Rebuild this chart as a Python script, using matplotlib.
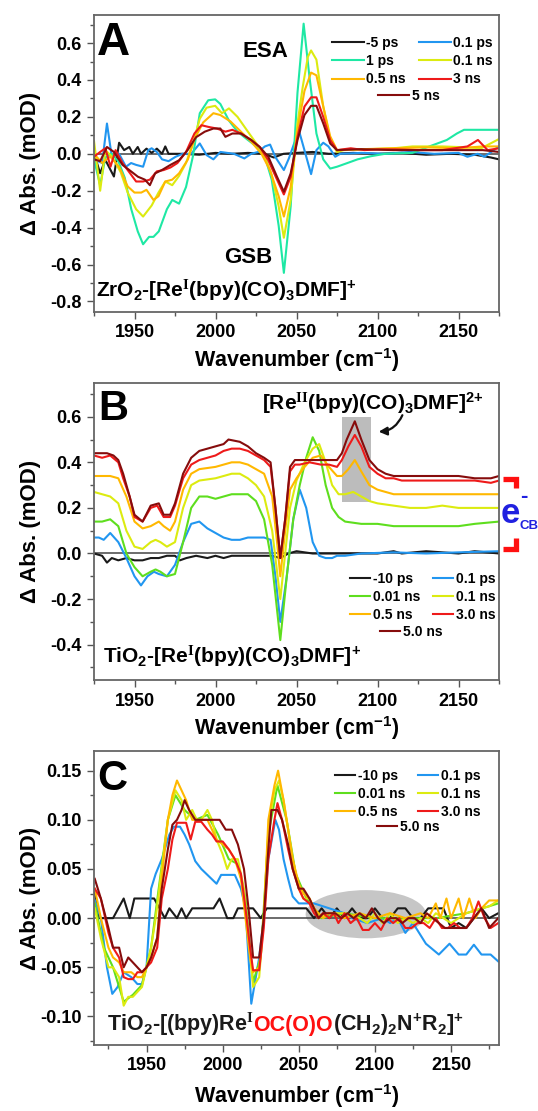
import matplotlib
matplotlib.use("Agg")
import matplotlib.pyplot as plt
from matplotlib.lines import Line2D
from matplotlib.patches import Rectangle, Ellipse
from matplotlib.ticker import MultipleLocator, FormatStrFormatter

plt.rcParams['font.family'] = ['Liberation Sans', 'DejaVu Sans']
plt.rcParams['font.weight'] = 'bold'
plt.rcParams['axes.unicode_minus'] = False
plt.rcParams['mathtext.fontset'] = 'custom'
plt.rcParams['mathtext.rm'] = 'Liberation Serif:bold'
plt.rcParams['mathtext.bf'] = 'Liberation Sans:bold'
plt.rcParams['mathtext.it'] = 'Liberation Sans:bold:italic'
plt.rcParams['mathtext.sf'] = 'Liberation Sans:bold'
plt.rcParams['mathtext.default'] = 'bf'

# ---------------- panel A : ZrO2 ----------------
A_x_m5ps = [1925.6, 1928.8, 1932, 1937.3, 1940.5, 1943.6, 1946.8, 1949, 1952, 1954, 1957.4, 1960.6, 1963.8, 1967, 1969, 1971, 1980, 1990, 2000, 2010, 2020, 2030, 2036, 2042, 2050, 2060, 2070, 2085, 2100, 2115, 2130, 2145, 2160, 2170, 2175]
A_m5ps = [-0.015, -0.105, -0.033, -0.123, 0.06, 0.02, 0.037, 0.0, 0.037, 0.0, 0.028, 0.005, 0.028, 0.0, 0.04, 0.0, 0.0, -0.005, 0.005, 0.0, 0.005, 0.0, -0.02, 0.0, 0.005, 0.01, 0.0, 0.005, 0.0, 0.005, -0.005, 0.0, -0.005, -0.02, -0.03]

A_x_01ps = [1925.6, 1930, 1933, 1936, 1940.5, 1944.7, 1947.9, 1951, 1955.3, 1958.5, 1960.6, 1963.8, 1967, 1971, 1975.4, 1979.7, 1985, 1990.3, 1994.5, 1998.7, 2003, 2011.4, 2017.8, 2022, 2026.3, 2030.5, 2033.7, 2036.9, 2042.2, 2045.3, 2048.5, 2051.7, 2054.9, 2059, 2062.3, 2066.5, 2069.7, 2073.9, 2077, 2090, 2105, 2120, 2135, 2150, 2155.5, 2161.9, 2166, 2175]
A_01ps = [-0.033, -0.05, 0.164, -0.016, 0.0, -0.07, -0.05, -0.06, -0.07, 0.02, 0.03, 0.01, -0.03, -0.04, -0.016, 0.0, 0.0, 0.056, -0.007, -0.03, 0.01, 0.0, -0.025, 0.0, 0.01, 0.04, 0.05, -0.017, -0.088, -0.025, 0.055, 0.12, 0.02, -0.11, 0.02, 0.06, 0.04, -0.016, 0.0, 0.005, 0.0, 0.01, 0.0, 0.005, -0.016, 0.0, -0.016, 0.04]

A_x_1ps = [1925, 1928.8, 1932, 1936, 1940, 1944, 1948, 1952, 1955.3, 1959, 1961.7, 1965, 1970, 1973.3, 1977.5, 1981.8, 1986, 1990.3, 1995.5, 1999.8, 2003, 2008.3, 2013.6, 2020, 2025.2, 2030.5, 2034.7, 2039, 2042.2, 2046.4, 2050.6, 2054.4, 2058, 2062.3, 2066.5, 2070.8, 2075, 2081.4, 2087.7, 2096, 2104.7, 2121.6, 2132, 2142.8, 2149, 2153.4, 2164, 2175]
A_1ps = [-0.03, -0.17, -0.02, 0.0, -0.04, -0.13, -0.3, -0.42, -0.49, -0.45, -0.45, -0.42, -0.3, -0.25, -0.27, -0.18, -0.016, 0.22, 0.29, 0.295, 0.27, 0.18, 0.12, 0.075, 0.04, -0.016, -0.14, -0.39, -0.645, -0.285, 0.33, 0.705, 0.417, 0.11, -0.03, -0.08, -0.07, -0.05, -0.03, -0.013, 0.0, 0.005, 0.04, 0.075, 0.11, 0.13, 0.13, 0.13]

A_x_01ns = [1925, 1928.8, 1932, 1936.2, 1941.5, 1945.8, 1951, 1955.3, 1960.6, 1964.8, 1969, 1973.3, 1977.5, 1981.8, 1986, 1990.3, 1994.5, 1999.8, 2004, 2008.3, 2013.6, 2020, 2025.2, 2030.5, 2034.7, 2039, 2042.2, 2046.4, 2050.6, 2053.8, 2057, 2059, 2062.3, 2066.5, 2070.8, 2075, 2079.2, 2095, 2110, 2121.6, 2140, 2155, 2164, 2175]
A_01ns = [0.07, -0.2, 0.02, -0.016, -0.1, -0.21, -0.3, -0.34, -0.28, -0.21, -0.15, -0.17, -0.12, -0.05, 0.055, 0.19, 0.25, 0.26, 0.22, 0.246, 0.2, 0.12, 0.056, -0.016, -0.115, -0.285, -0.455, -0.25, 0.164, 0.36, 0.525, 0.56, 0.51, 0.257, 0.077, 0.01, 0.02, 0.025, 0.03, 0.04, 0.04, 0.035, 0.03, 0.08]

A_x_05ns = [1925, 1930, 1935, 1940.5, 1945.8, 1950, 1954.2, 1957.4, 1961.7, 1964.8, 1969, 1973.3, 1977.5, 1983, 1987, 1992.4, 1998.7, 2003, 2009.3, 2015.7, 2022, 2028.4, 2033.7, 2039, 2042.2, 2046.4, 2050.6, 2054.9, 2059, 2062.3, 2066.5, 2070.8, 2075, 2090, 2110, 2130, 2150, 2165, 2175]
A_05ns = [0.0, -0.05, -0.015, -0.07, -0.177, -0.21, -0.21, -0.195, -0.25, -0.23, -0.15, -0.14, -0.106, -0.03, 0.08, 0.17, 0.22, 0.21, 0.175, 0.12, 0.066, 0.0, -0.09, -0.23, -0.34, -0.18, 0.128, 0.34, 0.44, 0.425, 0.257, 0.095, 0.02, 0.025, 0.03, 0.035, 0.03, 0.04, 0.04]

A_x_3ns = [1925, 1928.8, 1932, 1935.2, 1938.3, 1942.6, 1946.8, 1951, 1955.3, 1959.5, 1963.8, 1968, 1972.2, 1976.5, 1981.8, 1987, 1991.3, 1995.5, 2000.8, 2006.1, 2010.4, 2015.7, 2022, 2027.3, 2032.6, 2038, 2042.2, 2046.4, 2050.6, 2054.9, 2059, 2062.3, 2066.5, 2070.8, 2075, 2083.5, 2092, 2100.4, 2111, 2125, 2140, 2155.5, 2162, 2168, 2175]
A_3ns = [-0.016, 0.01, 0.03, -0.07, 0.02, -0.05, -0.1, -0.15, -0.15, -0.14, -0.095, -0.088, -0.074, -0.05, 0.01, 0.11, 0.155, 0.146, 0.137, 0.12, 0.13, 0.11, 0.075, 0.037, -0.035, -0.14, -0.22, -0.125, 0.092, 0.256, 0.306, 0.306, 0.2, 0.075, 0.02, 0.03, 0.02, 0.024, 0.024, 0.02, 0.02, 0.04, 0.075, 0.02, 0.03]

A_x_5ns = [1925, 1928.8, 1933, 1937.3, 1942.6, 1946.8, 1952.1, 1956.4, 1959.5, 1962.7, 1966.9, 1972.2, 1977.5, 1982.8, 1988, 1993.4, 1998.7, 2003, 2006.1, 2010.4, 2015.7, 2022, 2027.3, 2032.6, 2038, 2042.2, 2046.4, 2050.6, 2054.9, 2059, 2062.3, 2066.5, 2070.8, 2075, 2090, 2110, 2130, 2150, 2165, 2175]
A_5ns = [-0.03, -0.04, 0.037, 0.01, -0.06, -0.088, -0.124, -0.14, -0.17, -0.106, -0.088, -0.06, -0.035, 0.02, 0.09, 0.12, 0.137, 0.137, 0.092, 0.11, 0.11, 0.075, 0.037, -0.016, -0.125, -0.205, -0.106, 0.074, 0.21, 0.26, 0.26, 0.165, 0.056, 0.02, 0.025, 0.02, 0.02, 0.02, 0.02, 0.01]

# ---------------- panel B : TiO2 ----------------
B_x_m10ps = [1925, 1930, 1933, 1936, 1940, 1945, 1950, 1955, 1960, 1965, 1970, 1975, 1978, 1982, 1988, 1995, 2000, 2005, 2010, 2020, 2035, 2040, 2045, 2050, 2060, 2080, 2100, 2110, 2115, 2130, 2150, 2160, 2175]
B_m10ps = [0.0, -0.01, -0.04, -0.02, -0.03, -0.02, -0.03, -0.03, -0.02, -0.02, -0.01, -0.01, -0.03, -0.02, -0.01, -0.02, -0.01, -0.02, -0.01, -0.01, -0.01, -0.02, 0.0, 0.01, 0.0, 0.0, 0.0, 0.01, 0.0, 0.01, 0.0, 0.01, 0.0]

B_x_01ps = [1925, 1928, 1931, 1935, 1940, 1945, 1950, 1954, 1958, 1962, 1965, 1970, 1975, 1980, 1985, 1990, 1995, 2000, 2005, 2010, 2015, 2020, 2025, 2030, 2034, 2037, 2040, 2044, 2048, 2052, 2056, 2060, 2064, 2068, 2072, 2075, 2080, 2090, 2110, 2130, 2150, 2175]
B_01ps = [0.07, 0.07, 0.06, 0.09, 0.05, -0.02, -0.1, -0.14, -0.1, -0.08, -0.09, -0.1, -0.05, 0.05, 0.13, 0.14, 0.11, 0.09, 0.07, 0.06, 0.06, 0.07, 0.07, 0.07, 0.06, -0.1, -0.3, -0.1, 0.15, 0.28, 0.2, 0.05, -0.01, -0.02, -0.02, -0.01, -0.01, 0.0, 0.005, 0.0, 0.005, 0.01]

B_x_001ns = [1925, 1930, 1935, 1940, 1945, 1950, 1955, 1960, 1963, 1966, 1970, 1975, 1980, 1985, 1990, 1995, 2000, 2005, 2010, 2015, 2020, 2025, 2030, 2035, 2040, 2044, 2048, 2052, 2056, 2060, 2064, 2068, 2072, 2076, 2080, 2090, 2100, 2110, 2120, 2130, 2140, 2150, 2160, 2175]
B_001ns = [0.14, 0.14, 0.15, 0.12, 0.0, -0.06, -0.1, -0.08, -0.07, -0.08, -0.1, -0.09, 0.05, 0.2, 0.25, 0.25, 0.24, 0.25, 0.26, 0.26, 0.26, 0.23, 0.15, -0.05, -0.38, -0.1, 0.15, 0.3, 0.42, 0.51, 0.45, 0.3, 0.2, 0.16, 0.14, 0.13, 0.13, 0.12, 0.12, 0.12, 0.12, 0.12, 0.13, 0.14]

B_x_01ns = [1925, 1930, 1935, 1940, 1945, 1950, 1955, 1960, 1963, 1966, 1970, 1975, 1980, 1985, 1990, 2000, 2005, 2010, 2015, 2020, 2025, 2030, 2035, 2040, 2043, 2046, 2050, 2055, 2060, 2064, 2068, 2072, 2076, 2080, 2085, 2090, 2095, 2100, 2110, 2120, 2130, 2140, 2150, 2160, 2175]
B_01ns = [0.27, 0.26, 0.25, 0.22, 0.1, 0.03, 0.02, 0.05, 0.06, 0.05, 0.03, 0.05, 0.2, 0.3, 0.32, 0.33, 0.34, 0.35, 0.35, 0.33, 0.3, 0.25, 0.1, -0.2, 0.0, 0.2, 0.32, 0.4, 0.46, 0.48, 0.4, 0.3, 0.26, 0.26, 0.27, 0.25, 0.23, 0.22, 0.21, 0.2, 0.2, 0.21, 0.2, 0.2, 0.2]

B_x_05ns = [1925, 1935, 1940, 1945, 1950, 1955, 1960, 1965, 1968, 1972, 1975, 1980, 1985, 1990, 2000, 2010, 2015, 2020, 2025, 2030, 2035, 2038, 2040, 2043, 2046, 2050, 2055, 2060, 2065, 2070, 2075, 2078, 2082, 2086, 2090, 2095, 2100, 2105, 2110, 2130, 2150, 2175]
B_05ns = [0.34, 0.34, 0.33, 0.25, 0.14, 0.11, 0.12, 0.14, 0.12, 0.1, 0.14, 0.28, 0.35, 0.37, 0.38, 0.4, 0.4, 0.39, 0.37, 0.35, 0.25, 0.05, -0.1, 0.1, 0.28, 0.33, 0.38, 0.42, 0.43, 0.38, 0.34, 0.34, 0.37, 0.41, 0.36, 0.3, 0.28, 0.27, 0.26, 0.26, 0.26, 0.26]

B_x_3ns = [1925, 1930, 1935, 1940, 1943, 1947, 1950, 1955, 1960, 1964, 1968, 1972, 1975, 1980, 1985, 1990, 2000, 2005, 2010, 2015, 2020, 2025, 2030, 2034, 2037, 2040, 2043, 2046, 2049, 2052, 2058, 2065, 2070, 2075, 2078, 2082, 2086, 2090, 2095, 2100, 2105, 2110, 2115, 2130, 2150, 2160, 2170, 2175]
B_3ns = [0.43, 0.42, 0.43, 0.4, 0.33, 0.25, 0.16, 0.14, 0.2, 0.21, 0.16, 0.16, 0.21, 0.33, 0.39, 0.41, 0.43, 0.45, 0.46, 0.46, 0.45, 0.43, 0.41, 0.38, 0.2, -0.02, 0.15, 0.36, 0.39, 0.39, 0.4, 0.39, 0.39, 0.38, 0.41, 0.47, 0.52, 0.47, 0.38, 0.35, 0.33, 0.33, 0.32, 0.32, 0.32, 0.32, 0.31, 0.32]

B_x_5ns = [1925, 1930, 1933, 1937, 1940, 1943, 1947, 1950, 1955, 1960, 1965, 1968, 1972, 1975, 1980, 1985, 1990, 2000, 2005, 2008, 2015, 2020, 2025, 2030, 2034, 2037, 2040, 2043, 2046, 2049, 2052, 2060, 2070, 2075, 2078, 2081, 2086, 2090, 2095, 2100, 2105, 2110, 2120, 2130, 2140, 2150, 2160, 2170, 2175]
B_5ns = [0.44, 0.44, 0.44, 0.43, 0.41, 0.35, 0.25, 0.17, 0.14, 0.21, 0.22, 0.17, 0.17, 0.22, 0.35, 0.42, 0.45, 0.47, 0.48, 0.5, 0.49, 0.47, 0.44, 0.42, 0.4, 0.2, -0.02, 0.15, 0.38, 0.41, 0.41, 0.41, 0.41, 0.41, 0.44, 0.5, 0.58, 0.5, 0.41, 0.37, 0.35, 0.34, 0.34, 0.34, 0.34, 0.34, 0.33, 0.33, 0.34]

# ---------------- panel C : TiO2 carbonate ----------------
C_x_m10ps = [1916, 1919, 1928, 1935, 1939, 1942, 1955, 1962, 1965, 1970, 1973, 1976, 1980, 1994, 1998, 2003, 2007, 2010, 2020, 2025, 2029, 2040, 2055, 2060, 2065, 2070, 2075, 2080, 2085, 2090, 2095, 2100, 2105, 2110, 2115, 2120, 2125, 2130, 2135, 2140, 2145, 2150, 2155, 2160, 2165, 2170, 2175, 2181]
C_m10ps = [0.027, 0.0, 0.0, 0.02, 0.0, 0.02, 0.02, 0.0, 0.01, 0.0, 0.01, 0.0, 0.01, 0.01, 0.02, 0.0, 0.0, 0.01, 0.01, 0.0, 0.01, 0.01, 0.01, 0.0, 0.01, 0.0, 0.01, 0.0, 0.01, 0.0, 0.0, 0.01, 0.0, 0.0, 0.01, 0.01, 0.0, 0.0, 0.01, 0.01, 0.01, -0.01, -0.005, -0.01, 0.0, 0.01, 0.0, 0.005]

C_x_01ps = [1916, 1920, 1924, 1927.5, 1931, 1935, 1940, 1944, 1947, 1950, 1953, 1956, 1960, 1965, 1968, 1972, 1975, 1978, 1982, 1986, 1990, 1996, 1999, 2004, 2008, 2012, 2015, 2018.8, 2024, 2027, 2030, 2034.6, 2037, 2040, 2043, 2046, 2050, 2060, 2070, 2080, 2085, 2095, 2105, 2110, 2115, 2120, 2125, 2133.5, 2142, 2149, 2155, 2160, 2165, 2170, 2176, 2181]
C_01ps = [0.018, 0.0, -0.05, -0.077, -0.07, -0.055, -0.06, -0.067, -0.067, -0.05, 0.03, 0.045, 0.06, 0.085, 0.093, 0.093, 0.085, 0.075, 0.058, 0.05, 0.044, 0.035, 0.044, 0.044, 0.044, 0.03, 0.01, -0.087, -0.04, 0.0, 0.06, 0.1, 0.09, 0.06, 0.04, 0.022, 0.015, 0.015, 0.01, 0.005, 0.0, -0.005, 0.0, -0.005, 0.0, -0.015, -0.005, -0.026, -0.037, -0.026, -0.037, -0.037, -0.027, -0.037, -0.037, -0.044]

C_x_001ns = [1916, 1922, 1928, 1935, 1941, 1947, 1953, 1958, 1964, 1969, 1975, 1982, 1990, 1997, 2004, 2010, 2015, 2020, 2025, 2030, 2036, 2042, 2048, 2055, 2065, 2080, 2100, 2120, 2140, 2160, 2181]
C_001ns = [0.015, -0.03, -0.05, -0.085, -0.078, -0.068, -0.03, 0.03, 0.1, 0.125, 0.11, 0.1, 0.105, 0.085, 0.06, 0.055, 0.02, -0.065, -0.04, 0.085, 0.135, 0.1, 0.045, 0.02, 0.0, 0.005, 0.0, 0.0, 0.0, 0.005, 0.015]

C_x_01ns = [1916, 1920, 1925, 1928, 1932, 1935, 1938, 1941, 1944, 1947, 1950, 1953, 1956, 1960, 1964, 1969, 1973, 1976, 1980, 1983, 1986, 1990, 1993, 1996, 2000, 2003, 2006, 2010, 2014, 2017, 2020, 2024, 2027, 2030, 2034, 2037, 2040, 2043, 2046, 2050, 2053, 2057, 2060, 2063, 2070, 2080, 2090, 2095, 2100, 2105, 2110, 2115, 2120, 2125, 2130, 2135, 2140, 2150, 2160, 2170, 2175, 2181]
C_01ns = [0.01, -0.02, -0.05, -0.05, -0.06, -0.089, -0.08, -0.08, -0.075, -0.07, -0.05, -0.03, 0.0, 0.05, 0.1, 0.13, 0.12, 0.1, 0.11, 0.1, 0.1, 0.11, 0.1, 0.08, 0.065, 0.05, 0.06, 0.06, 0.03, -0.02, -0.07, -0.06, 0.0, 0.09, 0.13, 0.14, 0.12, 0.09, 0.06, 0.03, 0.02, 0.02, 0.01, 0.0, 0.005, 0.005, 0.0, -0.005, 0.005, -0.005, 0.005, -0.005, 0.0, -0.005, 0.0, -0.005, 0.005, -0.005, 0.005, 0.01, 0.012, 0.018]

C_x_05ns = [1916, 1920, 1925, 1928, 1932, 1935, 1940, 1944, 1947, 1950, 1953, 1957, 1960, 1964, 1967, 1970, 1973, 1976, 1980, 1983, 1986, 1990, 1993, 1996, 2000, 2004, 2008, 2012, 2015, 2018, 2020, 2024, 2027, 2030, 2034, 2036.4, 2040, 2043, 2046, 2050, 2053, 2057, 2060, 2063, 2066, 2070, 2080, 2090, 2100, 2110, 2120, 2130, 2135, 2140, 2143, 2147, 2150, 2155, 2158, 2162, 2166, 2170, 2175, 2181]
C_05ns = [0.03, 0.0, -0.03, -0.04, -0.045, -0.055, -0.055, -0.06, -0.06, -0.05, -0.04, -0.02, 0.04, 0.1, 0.125, 0.14, 0.13, 0.12, 0.1, 0.1, 0.1, 0.1, 0.09, 0.08, 0.075, 0.07, 0.06, 0.04, 0.0, -0.04, -0.055, -0.05, 0.0, 0.1, 0.135, 0.15, 0.12, 0.09, 0.06, 0.035, 0.025, 0.02, 0.01, 0.005, 0.0, 0.005, 0.0, 0.005, 0.0, 0.005, 0.0, 0.005, 0.0, 0.015, 0.0, 0.02, 0.0, 0.02, 0.0, 0.02, 0.0, 0.01, 0.018, 0.018]

C_x_3ns = [1916, 1920, 1925, 1928, 1932, 1935, 1938, 1941, 1944, 1947, 1950, 1953, 1957, 1960, 1964, 1967, 1970, 1973, 1976, 1979, 1982, 1986, 1990, 1993, 1996, 2000, 2004, 2008, 2012, 2015, 2018, 2020, 2024, 2027, 2030, 2034, 2036, 2039, 2043, 2046, 2050, 2053, 2057, 2060, 2063, 2066, 2070, 2073, 2076, 2080, 2084, 2088, 2092, 2096, 2100, 2104, 2108, 2112, 2116, 2120, 2124, 2128, 2132, 2136, 2140, 2144, 2148, 2152, 2156, 2160, 2164, 2168, 2172, 2176, 2181]
C_3ns = [0.03, 0.02, -0.015, -0.03, -0.04, -0.06, -0.062, -0.062, -0.055, -0.055, -0.05, -0.045, -0.03, 0.02, 0.05, 0.08, 0.097, 0.097, 0.097, 0.08, 0.098, 0.098, 0.09, 0.085, 0.078, 0.078, 0.07, 0.06, 0.045, 0.01, -0.03, -0.053, -0.053, -0.01, 0.06, 0.1, 0.117, 0.1, 0.07, 0.05, 0.03, 0.02, 0.015, 0.005, 0.0, 0.005, 0.0, 0.005, -0.005, 0.005, -0.005, 0.0, -0.012, -0.012, -0.005, -0.012, 0.0, -0.005, 0.0, -0.01, -0.01, -0.005, -0.005, -0.01, 0.0, -0.01, -0.01, -0.005, -0.01, -0.01, 0.0, 0.017, 0.0, -0.01, -0.005]

C_x_5ns = [1916, 1920, 1925, 1928, 1932, 1935, 1938, 1941, 1944, 1947, 1950, 1953, 1957, 1960, 1964, 1967, 1970, 1973, 1975, 1978, 1982, 1986, 1990, 1994, 1998, 2002, 2006, 2010, 2014, 2017, 2020, 2024, 2027, 2030, 2032, 2036, 2039, 2043, 2046, 2050, 2053, 2057, 2060, 2063, 2066, 2070, 2074, 2078, 2082, 2086, 2090, 2094, 2098, 2102, 2106, 2110, 2114, 2118, 2122, 2126, 2130, 2134, 2138, 2142, 2146, 2150, 2155, 2160, 2165, 2170, 2175, 2181]
C_5ns = [0.04, 0.02, -0.01, -0.03, -0.03, -0.05, -0.04, -0.045, -0.05, -0.055, -0.05, -0.04, -0.02, 0.03, 0.07, 0.095, 0.1, 0.11, 0.12, 0.11, 0.1, 0.1, 0.1, 0.1, 0.1, 0.09, 0.09, 0.075, 0.05, 0.01, -0.04, -0.04, 0.0, 0.07, 0.11, 0.11, 0.1, 0.075, 0.05, 0.03, 0.03, 0.02, 0.01, 0.0, 0.005, 0.005, 0.005, 0.0, 0.005, 0.0, 0.005, 0.0, 0.01, 0.0, -0.005, 0.0, 0.0, -0.005, 0.0, 0.0, -0.005, 0.005, 0.0, -0.005, -0.01, -0.01, -0.01, -0.01, 0.0, 0.01, -0.01, 0.0]

labels_A = ['-5 ps', '0.1 ps', '1 ps', '0.1 ns', '0.5 ns', '3 ns', '5 ns']
labels_BC = ['-10 ps', '0.1 ps', '0.01 ns', '0.1 ns', '0.5 ns', '3.0 ns', '5.0 ns']

BLACK = '#1a1a1a'
BLUE = '#2196f0'
CYAN = '#1ee8a4'
GREEN = '#5ede1e'
YELLOW = '#dceb10'
ORANGE = '#ffb800'
RED = '#ee1a1a'
DARK = '#860c0c'
LW = 1.5


def style_axes(ax, xlim, ylim, ymaj, ymin, yfmt, xlab_y):
    ax.set_xlim(*xlim)
    ax.set_ylim(*ylim)
    ax.xaxis.set_major_locator(MultipleLocator(50))
    ax.xaxis.set_minor_locator(MultipleLocator(25))
    ax.yaxis.set_major_locator(MultipleLocator(ymaj))
    ax.yaxis.set_minor_locator(MultipleLocator(ymin))
    ax.yaxis.set_major_formatter(FormatStrFormatter(yfmt))
    ax.tick_params(which='both', direction='out', top=False, right=False,
                   labelsize=13, width=1.0, color='#555555', pad=4)
    ax.tick_params(which='major', length=5)
    ax.tick_params(which='minor', length=3)
    for lab in ax.get_xticklabels() + ax.get_yticklabels():
        lab.set_fontweight('bold')
    for s in ax.spines.values():
        s.set_color('#666666')
        s.set_linewidth(1.3)
    ax.axhline(0, color='#444444', lw=1.1, zorder=1.5)
    ax.set_xlabel('Wavenumber (cm$^{-1}$)', fontsize=15.5, fontweight='bold')
    ax.set_ylabel('Δ Abs. (mOD)', fontsize=16, fontweight='bold')
    ax.xaxis.set_label_coords(0.5, xlab_y)
    ax.yaxis.set_label_coords(-0.13, 0.5)


def add_legend(ax, handles, labels, x0, y0, x1, y1, hlen):
    kw = dict(frameon=False, fontsize=10, handlelength=hlen, handletextpad=0.2,
              borderpad=0, borderaxespad=0, labelspacing=0.31, columnspacing=0.9)
    order = [0, 2, 4, 1, 3, 5]
    leg1 = ax.legend([handles[i] for i in order], [labels[i] for i in order], ncol=2,
                     loc='upper left', bbox_to_anchor=(x0, y0), **kw)
    ax.add_artist(leg1)
    ax.legend([handles[6]], [labels[6]], loc='upper left', bbox_to_anchor=(x1, y1), **kw)


fig = plt.figure(figsize=(5.38, 11.11), dpi=100)
W, H = 538, 1111
axA = fig.add_axes([94 / W, 1 - 312 / H, 405 / W, 297 / H])
axB = fig.add_axes([94 / W, 1 - 680 / H, 405 / W, 297 / H])
axC = fig.add_axes([94 / W, 1 - 1045 / H, 405 / W, 294 / H])

# ---- A ----
hA = [
    axA.plot(A_x_m5ps, A_m5ps, color=BLACK, lw=LW)[0],
    axA.plot(A_x_01ps, A_01ps, color=BLUE, lw=LW)[0],
    axA.plot(A_x_1ps, A_1ps, color=CYAN, lw=LW)[0],
    axA.plot(A_x_01ns, A_01ns, color=YELLOW, lw=LW)[0],
    axA.plot(A_x_05ns, A_05ns, color=ORANGE, lw=LW)[0],
    axA.plot(A_x_3ns, A_3ns, color=RED, lw=LW)[0],
    axA.plot(A_x_5ns, A_5ns, color=DARK, lw=LW)[0],
]
style_axes(axA, (1925, 2175), (-0.857, 0.752), 0.2, 0.1, '%.1f', -0.115)
add_legend(axA, hA, labels_A, 0.587, 0.93, 0.70, 0.752, 2.3)
axA.text(0.008, 0.865, 'A', transform=axA.transAxes, fontsize=33, fontweight='bold', va='baseline')
axA.text(2031, 0.552, 'ESA', fontsize=16, fontweight='bold', ha='center', va='center')
axA.text(2020, -0.56, 'GSB', fontsize=16, fontweight='bold', ha='center', va='center')
axA.text(0.006, 0.05, r'ZrO$_2$-[Re$^{\mathrm{I}}$(bpy)(CO)$_3$DMF]$^{+}$', transform=axA.transAxes,
         fontsize=15, fontweight='bold', va='baseline')

# ---- B ----
axB.add_patch(Rectangle((2078, 0.225), 18, 0.372, facecolor='#bcbcbc', edgecolor='none', zorder=1))
hB = [
    axB.plot(B_x_m10ps, B_m10ps, color=BLACK, lw=LW)[0],
    axB.plot(B_x_01ps, B_01ps, color=BLUE, lw=LW)[0],
    axB.plot(B_x_001ns, B_001ns, color=GREEN, lw=LW)[0],
    axB.plot(B_x_01ns, B_01ns, color=YELLOW, lw=LW)[0],
    axB.plot(B_x_05ns, B_05ns, color=ORANGE, lw=LW)[0],
    axB.plot(B_x_3ns, B_3ns, color=RED, lw=LW)[0],
    axB.plot(B_x_5ns, B_5ns, color=DARK, lw=LW)[0],
]
style_axes(axB, (1925, 2175), (-0.555, 0.748), 0.2, 0.1, '%.1f', -0.115)
add_legend(axB, hB, labels_BC, 0.632, 0.365, 0.706, 0.185, 1.45)
axB.text(0.01, 0.875, 'B', transform=axB.transAxes, fontsize=30, fontweight='bold', va='baseline')
axB.text(2029, 0.63, r'[Re$^{\mathrm{II}}$(bpy)(CO)$_3$DMF]$^{2{+}}$', fontsize=15, fontweight='bold',
         va='baseline')
axB.annotate('', xy=(2099, 0.534), xytext=(2116, 0.618),
             arrowprops=dict(arrowstyle='-|>', color='#111111', lw=1.6,
                             connectionstyle='arc3,rad=-0.35', mutation_scale=12))
axB.text(0.022, 0.057, r'TiO$_2$-[Re$^{\mathrm{I}}$(bpy)(CO)$_3$DMF]$^{+}$', transform=axB.transAxes,
         fontsize=15, fontweight='bold', va='baseline')

# e- CB bracket on the right of panel B
for pts in ([(503, 479), (515.5, 479), (515.5, 488)], [(515.5, 538), (515.5, 549), (503, 549)]):
    fig.add_artist(Line2D([p[0] / W for p in pts], [1 - p[1] / H for p in pts], color='#ff1010',
                          lw=3.8, solid_joinstyle='miter', solid_capstyle='butt',
                          transform=fig.transFigure))
fig.text(501 / W, 1 - 523 / H, 'e', color='#2020e0', fontsize=25, fontweight='bold', va='baseline')
fig.text(524 / W, 1 - 497 / H, '-', color='#2020e0', fontsize=16, fontweight='bold', ha='center', va='center')
fig.text(520 / W, 1 - 529 / H, 'CB', color='#2020e0', fontsize=9.5, fontweight='bold', va='baseline')

# ---- C ----
axC.add_patch(Ellipse((2094, 0.004), 79, 0.049, facecolor='#c6c6c6', edgecolor='none', zorder=1))
hC = [
    axC.plot(C_x_m10ps, C_m10ps, color=BLACK, lw=LW)[0],
    axC.plot(C_x_01ps, C_01ps, color=BLUE, lw=LW)[0],
    axC.plot(C_x_001ns, C_001ns, color=GREEN, lw=LW)[0],
    axC.plot(C_x_01ns, C_01ns, color=YELLOW, lw=LW)[0],
    axC.plot(C_x_05ns, C_05ns, color=ORANGE, lw=LW)[0],
    axC.plot(C_x_3ns, C_3ns, color=RED, lw=LW)[0],
    axC.plot(C_x_5ns, C_5ns, color=DARK, lw=LW)[0],
]
style_axes(axC, (1915.5, 2181.5), (-0.129, 0.170), 0.05, 0.025, '%.2f', -0.125)
add_legend(axC, hC, labels_BC, 0.595, 0.94, 0.698, 0.767, 1.45)
axC.text(0.007, 0.868, 'C', transform=axC.transAxes, fontsize=30, fontweight='bold', va='baseline')

# composite caption with a red middle part
renderer = fig.canvas.get_renderer()
parts = [(r'TiO$_2$-[(bpy)Re$^{\mathrm{I}}$', BLACK), ('OC(O)O', '#ff1010'),
         (r'(CH$_2$)$_2$N$^{+}$R$_2$]$^{+}$', BLACK)]
xpos = 0.031
for s, c in parts:
    t = axC.text(xpos, 0.048, s, color=c, transform=axC.transAxes, fontsize=15.5,
                 fontweight='bold', va='baseline')
    bb = t.get_window_extent(renderer=renderer)
    xpos = axC.transAxes.inverted().transform((bb.x1, bb.y0))[0]

fig.savefig('out.png', dpi=100)
